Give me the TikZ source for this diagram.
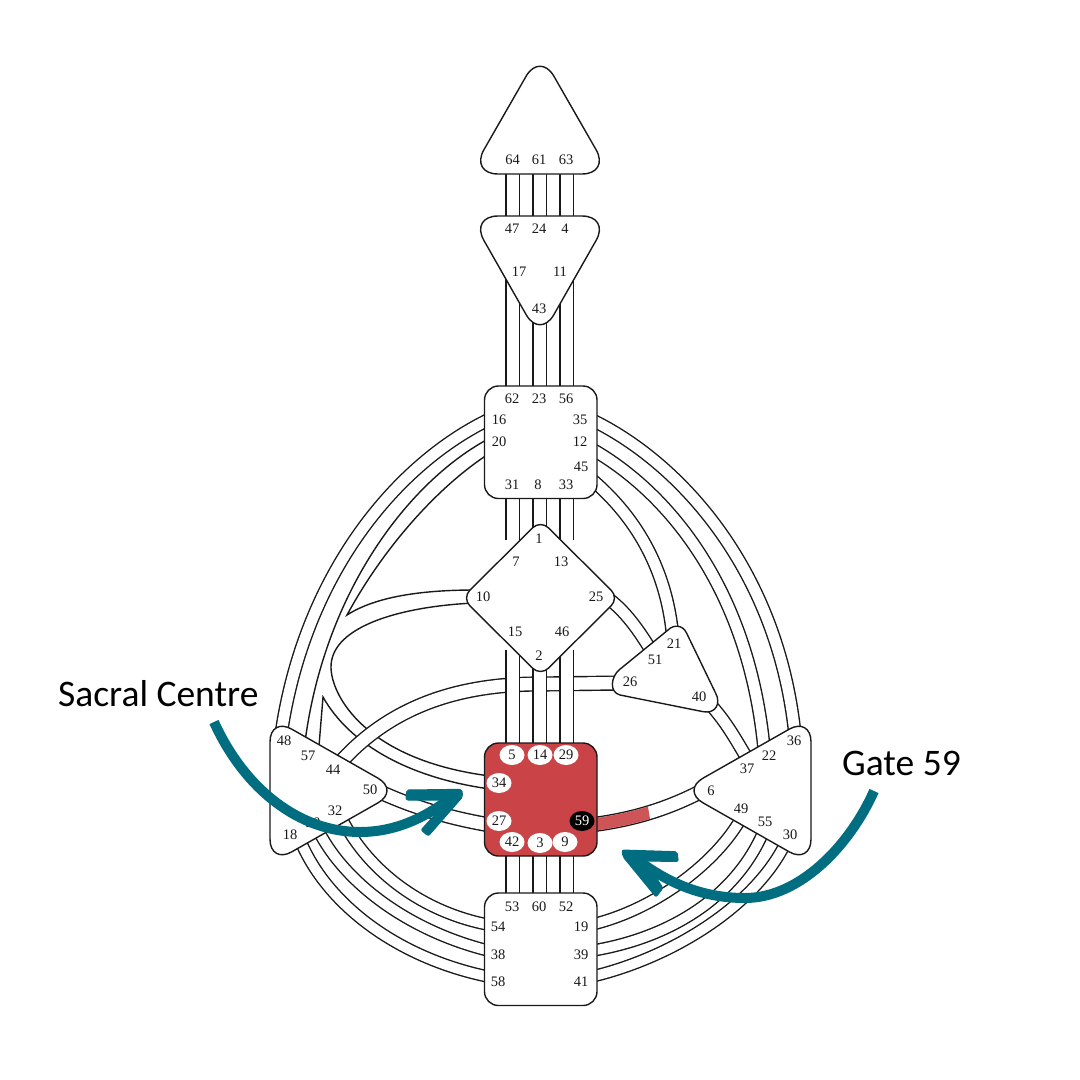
\documentclass[tikz,border=0pt]{standalone}
\usepackage{fontspec}
\setmainfont{Liberation Serif}
\newfontfamily\callout{Carlito}
\definecolor{sacralred}{HTML}{C94347}
\definecolor{gatered}{HTML}{CE5557}
\definecolor{teal}{HTML}{006E80}
\usetikzlibrary{shapes.geometric}
\tikzset{
  centreshape/.style={draw=black!90,line width=1.4pt,fill=white},
  gate/.style={font=\fontsize{14.5}{14.5}\selectfont,inner sep=0pt,text=black!90},
  wgate/.style={gate,ellipse,fill=white,minimum width=25pt,minimum height=20pt},
  edgeline/.style={draw=black!90,line width=1.4pt},
  tube/.style={preaction={draw=black!90,line width=15.2pt},draw=white,line width=12.4pt},
  arctube/.style={preaction={draw=black!90,line width=13.6pt},draw=white,line width=10.8pt},
  lowtube/.style={preaction={draw=black!90,line width=12.6pt},draw=white,line width=9.8pt},
  pointer/.style={draw=teal,line width=10pt},
  pointerhead/.style={fill=teal,draw=teal,line width=1pt,line join=round,rounded corners=2pt},
  calloutlabel/.style={font=\callout\fontsize{37.5}{37.5}\selectfont,inner sep=0pt,anchor=base west,text=black}
}
\begin{document}
\begin{tikzpicture}[x=1pt,y=-1pt]
\useasboundingbox (0,0) rectangle (1080,1080);
% channel end points
\coordinate (e16) at (490,419); \coordinate (e48) at (281,735);
\coordinate (e35) at (590,419); \coordinate (e36) at (795,735);
\coordinate (e12) at (590,448); \coordinate (e22) at (764,748);
\coordinate (e45) at (590,478); \coordinate (e21) at (673,640);
\coordinate (e20o) at (490,438); \coordinate (e57o) at (305,742);
\coordinate (e20i) at (490,453); \coordinate (e57i) at (319,746);
\coordinate (vA) at (347,615); \coordinate (vB) at (323,697);
\coordinate (e10u) at (475,590); \coordinate (e10l) at (475,603);
\coordinate (e34u) at (490,776); \coordinate (e34l) at (490,789);
\coordinate (e26) at (625,683); \coordinate (e44) at (338,765);
\coordinate (e25) at (606,597); \coordinate (e51) at (652,652);
\coordinate (e40) at (708,702); \coordinate (e37) at (748,760);
\coordinate (e50) at (378,791); \coordinate (e27) at (490,825);
\coordinate (e32) at (340,815); \coordinate (e54) at (490,925);
\coordinate (e28) at (317,828); \coordinate (e38) at (490,951);
\coordinate (e18) at (300,840); \coordinate (e58) at (490,977);
\coordinate (e49) at (743,815); \coordinate (e19) at (590,925);
\coordinate (e55) at (765,828); \coordinate (e39) at (590,951);
\coordinate (e30) at (787,840); \coordinate (e41) at (590,977);
\coordinate (e6) at (700,792); \coordinate (e59) at (590,825);
% arcs left
\draw[arctube] (e16) .. controls (400,462) and (305,570) .. (e48);
\draw[edgeline] (e20o) .. controls (410,480) and (325,590) .. (e57o);
\draw[edgeline] (e20i) .. controls (440,485) and (385,545) .. (vA) .. controls (375,597) and (420,590) .. (e10u);
\draw[edgeline] (e57i) -- (vB) .. controls (350,745) and (410,778) .. (e34l);
\draw[edgeline] (e10l) .. controls (405,606) and (331,625) .. (331,667) .. controls (331,695) and (365,760) .. (e34u);
% arcs right
\draw[arctube] (e35) .. controls (680,462) and (778,570) .. (e36);
\draw[arctube] (e12) .. controls (665,490) and (748,585) .. (e22);
\draw[arctube] (e45) .. controls (640,520) and (668,575) .. (e21);
% lower arcs
\draw[lowtube] (e18) .. controls (326,903) and (396,958) .. (e58);
\draw[lowtube] (e28) .. controls (345,885) and (412,932) .. (e38);
\draw[lowtube] (e32) .. controls (365,868) and (420,912) .. (e54);
\draw[lowtube] (e30) .. controls (757,905) and (672,958) .. (e41);
\draw[lowtube] (e55) .. controls (738,895) and (672,938) .. (e39);
\draw[lowtube] (e49) .. controls (718,862) and (655,910) .. (e19);
% others
\draw[tube] (e26) -- (540,684) .. controls (470,684) and (395,700) .. (e44);
\draw[arctube] (e25) .. controls (625,610) and (640,632) .. (e51);
\draw[arctube] (e40) .. controls (725,720) and (735,738) .. (e37);
\draw[tube] (e50) .. controls (415,808) and (450,818) .. (e27);
\draw[tube] (e59) .. controls (630,820) and (665,810) .. (e6);
\begin{scope}
\clip (590,790) -- (646.5,798) -- (651.5,828) -- (590,850) -- cycle;
\draw[draw=gatered,line width=12.4pt] (e59) .. controls (630,820) and (665,810) .. (e6);
\end{scope}
% verticals
\foreach \a/\b/\c in {512.75/165/225,512.75/275/395,512.75/490/540,512.75/650/750,512.75/850/900,
 539.75/165/225,539.75/300/395,539.75/490/530,539.75/660/750,539.75/850/900,
 566.75/165/225,566.75/275/395,566.75/490/540,566.75/650/750,566.75/850/900}
  \draw[tube] (\a,\b) -- (\a,\c);
% centres
\draw[centreshape,rounded corners=28pt] (540,52) -- (610,174) -- (470,174) -- cycle;
\draw[centreshape,rounded corners=28pt] (470,216) -- (610,216) -- (540,339) -- cycle;
\draw[centreshape,rounded corners=14pt] (484.5,386) rectangle (597,498.5);
\draw[centreshape,rounded corners=11pt] (540.5,520) -- (619,598) -- (540.5,676) -- (462,598) -- cycle;
\draw[centreshape] (668,630) -- (619,670) .. controls (611,677) and (609,692) .. (620,695) -- (703.3,711.7) .. controls (716,714) and (721,703) .. (715.7,693.3) -- (686.7,633.3) .. controls (683,625) and (674,624) .. cycle;
\draw[centreshape,fill=sacralred,rounded corners=14pt] (484.5,743) rectangle (597,856);
\draw[centreshape,rounded corners=14pt] (484.5,893) rectangle (597,1005.5);
\draw[centreshape,rounded corners=25pt] (270,716.8) -- (399.7,790.5) -- (270,864.2) -- cycle;
\draw[centreshape,rounded corners=25pt] (811,716.8) -- (681.3,790.5) -- (811,864.2) -- cycle;
% gates
\foreach \n/\x/\y in {64/512.5/160,61/539/160,63/566/160,47/512/229,24/539/229,4/565/229,17/519/272,11/560/272,43/539/309,
 62/512/399,23/539/399,56/566/399,16/499/420,20/499/442,35/580/420,12/580/442,45/581/467,31/512/485,8/538/485,33/566/485,
 1/539/539,7/516/562,13/561/562,10/483/597,25/596/597,15/515/632,46/562/632,2/539/656,
 21/674/644,51/655/660,26/630/682,40/699/697,
 53/512/907,60/539/907,52/566/907,54/498/927,19/581/927,38/498/955,39/581/955,58/498/982,41/581/982,
 48/284/741,57/308/756,44/333/770,50/370/790,32/335/811,28/313/823,18/290/835,
 36/794/741,22/769/756,37/747/769,6/711/791,49/741/809,55/765/822,30/790/835}
  \node[gate] (g\n) at (\x,\y) {\n};
\foreach \n/\x/\y in {5/512/755,14/540/755,29/566/755,34/499/783,27/499/821,42/512/842,3/540/843,9/565/842}
  \node[wgate] (g\n) at (\x,\y) {\n};
\node[wgate,fill=black,text=white] (g59) at (582,821) {59};
% callouts
\node[calloutlabel] (sacral) at (58,706.5) {Sacral Centre};
\node[calloutlabel] (gatefn) at (842,775.5) {Gate 59};
\coordinate (ps) at (214,722); \coordinate (ph) at (452,797);
\coordinate (qs) at (874,791); \coordinate (qh) at (635,858);
\draw[pointer] (ps) .. controls (245,790) and (300,832) .. (360,832) .. controls (395,832) and (425,818) .. (ph);
\fill[pointerhead] (406.7,790) -- (461.7,789.3) -- (462.7,796.7) -- (428.3,836) -- (421,830) -- (448.3,800) -- (406,800) -- cycle;
\draw[pointer] (qs) .. controls (850,845) and (800,898) .. (745,898) .. controls (705,898) and (670,885) .. (qh);
\fill[pointerhead] (622,850) -- (677,851.7) -- (678.3,861.5) -- (645,861) -- (663,888) -- (656,897) -- (623,856.7) -- cycle;
\end{tikzpicture}
\end{document}
